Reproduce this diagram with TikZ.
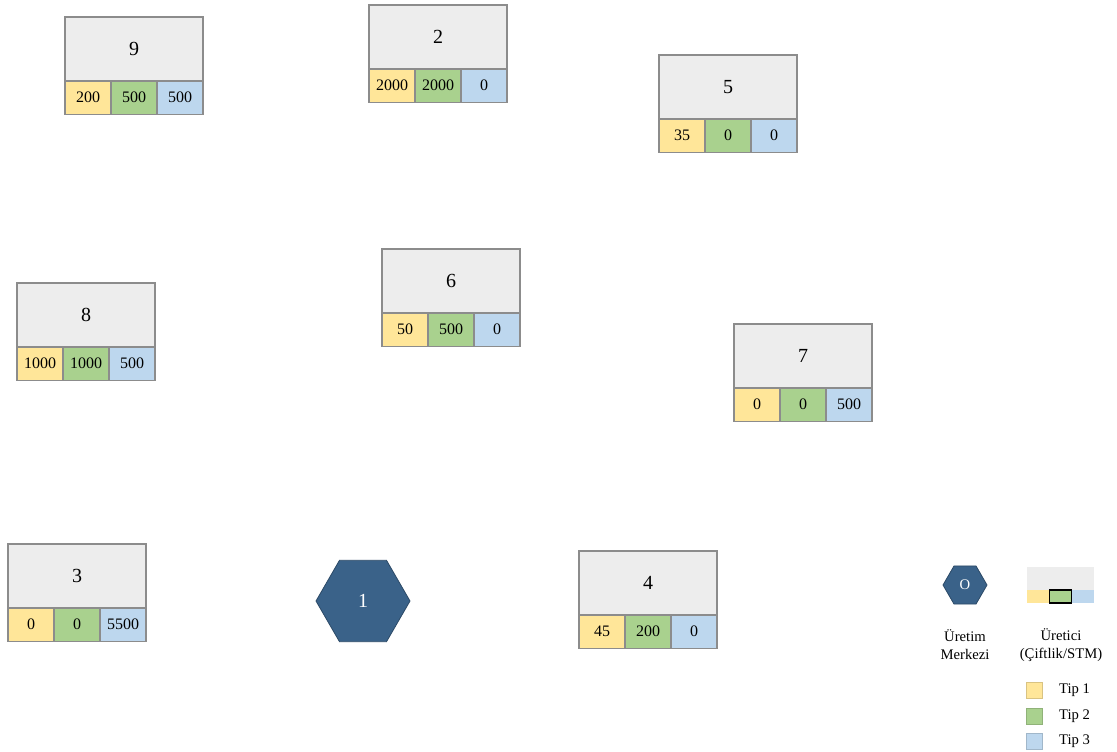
\documentclass[tikz,border=0pt]{standalone}
\usepackage{fontspec}
\setmainfont{Liberation Serif}
\usetikzlibrary{shapes.geometric,positioning}
\definecolor{TipSari}{HTML}{FFE699}
\definecolor{TipYesil}{HTML}{A9D18E}
\definecolor{TipMavi}{HTML}{BDD7EE}
\definecolor{KutuGri}{HTML}{EDEDED}
\definecolor{KenarGri}{HTML}{8C8C8C}
\definecolor{MerkezMavi}{HTML}{3A6289}

% producer box: name, top-left corner, label, three type amounts
\newcommand{\uretici}[6]{%
  \node[ustkutu, anchor=north west] (#1) at (#2) {#3};
  \node[hucre, fill=TipSari, anchor=north west] (#1a) at (#1.south west) {#4};
  \node[hucre, fill=TipYesil, right=0pt of #1a] (#1b) {#5};
  \node[hucre, fill=TipMavi, right=0pt of #1b] (#1c) {#6};
}

\begin{document}
\begin{tikzpicture}[
  x=0.75pt, y=-0.75pt,
  ustkutu/.style={draw=KenarGri, fill=KutuGri, line width=1pt,
                  minimum width=103.5pt, minimum height=48pt,
                  inner sep=0pt, outer sep=0pt, font=\fontsize{15}{18}\selectfont},
  hucre/.style={draw=KenarGri, line width=1pt,
                minimum width=34.5pt, minimum height=25pt,
                inner sep=0pt, outer sep=0pt, font=\fontsize{12}{14}\selectfont},
  merkez/.style={regular polygon, regular polygon sides=6, fill=MerkezMavi,
                 draw=MerkezMavi!75!black, line width=0.6pt, text=white, inner sep=0pt},
  kucukhucre/.style={minimum width=16.75pt, minimum height=9.75pt,
                     inner sep=0pt, outer sep=0pt},
  kare/.style={minimum size=12pt, inner sep=0pt, line width=0.5pt},
  etiket/.style={align=center, font=\fontsize{11}{13.5}\selectfont},
]
\useasboundingbox (0,0) rectangle (1117,751);

\uretici{u9}{65,17}{9}{200}{500}{500}
\uretici{u2}{369,5}{2}{2000}{2000}{0}
\uretici{u5}{659,55}{5}{35}{0}{0}
\uretici{u6}{382,249}{6}{50}{500}{0}
\uretici{u8}{17,283}{8}{1000}{1000}{500}
\uretici{u7}{734,324}{7}{0}{0}{500}
\uretici{u3}{8,544}{3}{0}{0}{5500}
\uretici{u4}{579,551}{4}{45}{200}{0}

\node[merkez, minimum size=70.5pt, font=\fontsize{15}{18}\selectfont] (m1) at (363,601) {1};

% legend
\node[merkez, minimum size=33pt, font=\fontsize{11}{13}\selectfont] (lmerkez) at (965,585) {O};
\node[fill=KutuGri, minimum width=50.25pt, minimum height=17.25pt,
      inner sep=0pt, outer sep=0pt, anchor=north west] (lkutu) at (1027,567) {};
\node[kucukhucre, fill=TipSari, anchor=north west] (lkutua) at (lkutu.south west) {};
\node[kucukhucre, fill=TipYesil, draw=black, line width=1pt, right=0pt of lkutua] (lkutub) {};
\node[kucukhucre, fill=TipMavi, right=0pt of lkutub] (lkutuc) {};

\node[etiket] (lmerkezyazi) at (965,645) {Üretim\\Merkezi};
\node[etiket] (luretici) at (1061,645) {Üretici\\(Çiftlik/STM)};

\node[kare, fill=TipSari, draw=TipSari!85!black] (tip1) at (1034,690) {};
\node[kare, fill=TipYesil, draw=TipYesil!85!black] (tip2) at (1034,716) {};
\node[kare, fill=TipMavi, draw=TipMavi!85!black] (tip3) at (1034,741) {};
\node[etiket, right=9pt of tip1] (tip1yazi) {Tip 1};
\node[etiket, right=9pt of tip2] (tip2yazi) {Tip 2};
\node[etiket, right=9pt of tip3] (tip3yazi) {Tip 3};
\end{tikzpicture}
\end{document}
